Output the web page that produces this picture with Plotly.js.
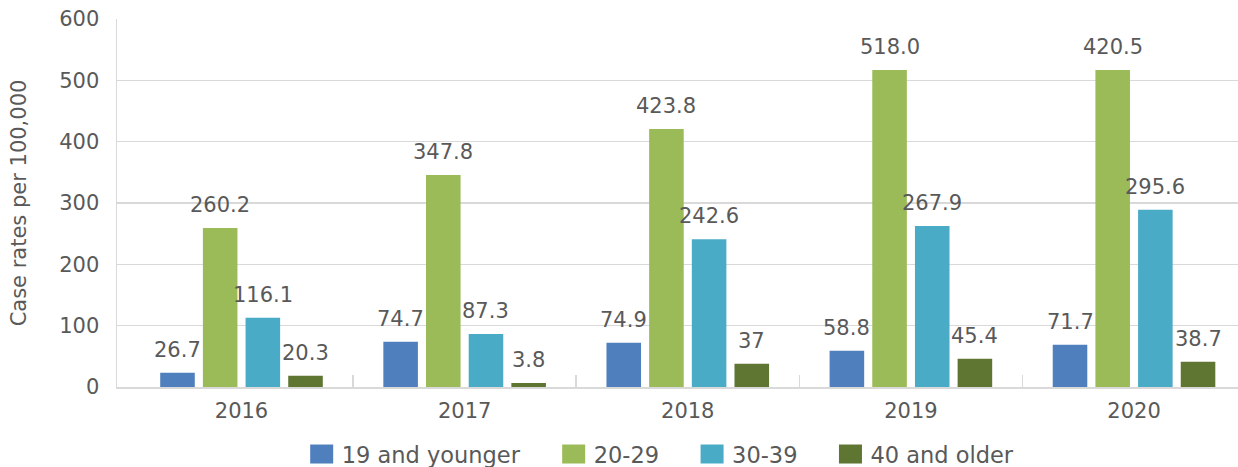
<!DOCTYPE html>
<html>
<head>
<meta charset="utf-8">
<script src="https://cdn.plot.ly/plotly-3.0.1.min.js"></script>
<style>
  html, body { margin: 0; padding: 0; background: #ffffff; }
  #chart { width: 1238px; height: 467px; }
</style>
</head>
<body>
<div id="chart"></div>
<script>
// ---- data ----
const years = ["2016", "2017", "2018", "2019", "2020"];
const seriesNames = ["19 and younger", "20-29", "30-39", "40 and older"];

// bar heights as drawn in the reference
const young = [23.3, 73.8, 72.2, 59.1, 68.9];
const twenties = [259.4, 345.8, 420.7, 516.8, 516.8];
const thirties = [112.9, 86.3, 241.0, 262.7, 288.8];
const older = [18.4, 6.5, 38.0, 46.1, 41.2];

// data labels as printed in the reference
const youngLabels = ["26.7", "74.7", "74.9", "58.8", "71.7"];
const twentiesLabels = ["260.2", "347.8", "423.8", "518.0", "420.5"];
const thirtiesLabels = ["116.1", "87.3", "242.6", "267.9", "295.6"];
const olderLabels = ["20.3", "3.8", "37", "45.4", "38.7"];

const yTicks = [0, 100, 200, 300, 400, 500, 600];

// ---- styling ----
const colors = ["#4f7fbd", "#9bbb59", "#4aabc6", "#5f7532"];
const textColor = "#595959";
const gridColor = "#d9d9d9";
const fontFamily = "'DejaVu Sans', sans-serif";
const fontSize = 21;
const bargap = 0.235;

const values = [young, twenties, thirties, older];
const labels = [youngLabels, twentiesLabels, thirtiesLabels, olderLabels];

const traces = values.map((v, i) => ({
  type: "bar",
  name: seriesNames[i],
  x: years,
  y: v,
  marker: { color: colors[i], line: { width: 0 } },
  hoverinfo: "skip"
}));

// annotation labels positioned via axis coordinates
const slot = (1 - bargap) / values.length;
const annotations = [];
values.forEach((v, i) => {
  v.forEach((val, j) => {
    annotations.push({
      x: j - (1 - bargap) / 2 + (i + 0.5) * slot,
      y: val,
      xref: "x", yref: "y",
      text: labels[i][j],
      showarrow: false,
      yanchor: "middle",
      xanchor: "center",
      yshift: 23,
      font: { family: fontFamily, size: fontSize, color: textColor }
    });
  });
});

const layout = {
  width: 1238,
  height: 467,
  margin: { l: 117, r: 0, t: 19, b: 80, autoexpand: false },
  paper_bgcolor: "#ffffff",
  plot_bgcolor: "#ffffff",
  font: { family: fontFamily, size: fontSize, color: textColor },
  barmode: "group",
  bargap: bargap,
  bargroupgap: 0.19,
  showlegend: true,
  legend: {
    orientation: "h",
    x: 0.485,
    xanchor: "center",
    y: 0.027,
    yref: "container",
    yanchor: "middle",
    font: { family: fontFamily, size: 22.5, color: textColor },
    traceorder: "normal"
  },
  xaxis: {
    type: "category",
    range: [-0.558, 4.466],
    automargin: false,
    showgrid: false,
    showline: true,
    linecolor: gridColor,
    linewidth: 1.5,
    ticks: "inside",
    tickson: "boundaries",
    ticklen: 12,
    tickcolor: gridColor,
    tickwidth: 1.5,
    ticklabelstandoff: 4,
    tickfont: { family: fontFamily, size: fontSize, color: textColor },
    zeroline: false,
    fixedrange: true
  },
  yaxis: {
    range: [0, 600],
    automargin: false,
    tickvals: yTicks,
    ticktext: yTicks.map(String),
    showgrid: true,
    gridcolor: gridColor,
    gridwidth: 1.5,
    showline: true,
    linecolor: gridColor,
    linewidth: 1.5,
    zeroline: false,
    ticks: "",
    ticklabelstandoff: 12,
    tickfont: { family: fontFamily, size: fontSize, color: textColor },
    title: {
      text: "Case rates per 100,000",
      font: { family: fontFamily, size: fontSize, color: textColor },
      standoff: 27
    },
    fixedrange: true
  },
  annotations: annotations
};

// enlarge legend swatches, widen spacing between legend entries,
// and hide the boundary tick that sits left of the first category
const legendExtraGap = 28;
function restyle() {
  const gd = document.getElementById("chart");
  gd.querySelectorAll(".legend [clip-path]").forEach(e => e.removeAttribute("clip-path"));
  gd.querySelectorAll(".legendpoints path").forEach(p => {
    p.setAttribute("d", "M11.5,9.5H-11.5V-9.5H11.5Z");
  });
  const items = gd.querySelectorAll(".legend .traces");
  items.forEach((g, i) => {
    if (g.dataset.shifted) return;
    const t = g.getAttribute("transform") || "";
    const m = t.match(/translate\(\s*([-\d.]+)[ ,]+([-\d.]+)\s*\)/);
    if (m) {
      const nx = parseFloat(m[1]) + i * legendExtraGap - (items.length - 1) * legendExtraGap / 2;
      g.setAttribute("transform", "translate(" + nx + "," + m[2] + ")");
      g.dataset.shifted = "1";
    }
  });
  const ticks = Array.from(gd.querySelectorAll("path.xtick"));
  let minTick = null, minX = Infinity;
  ticks.forEach(p => {
    const m = (p.getAttribute("transform") || "").match(/translate\(\s*([-\d.]+)/);
    if (m && parseFloat(m[1]) < minX) { minX = parseFloat(m[1]); minTick = p; }
  });
  if (minTick) minTick.style.display = "none";
}

Plotly.newPlot("chart", traces, layout, { displayModeBar: false, staticPlot: true }).then(gd => {
  restyle();
  gd.on("plotly_afterplot", restyle);
  setTimeout(restyle, 50);
});
</script>
</body>
</html>
